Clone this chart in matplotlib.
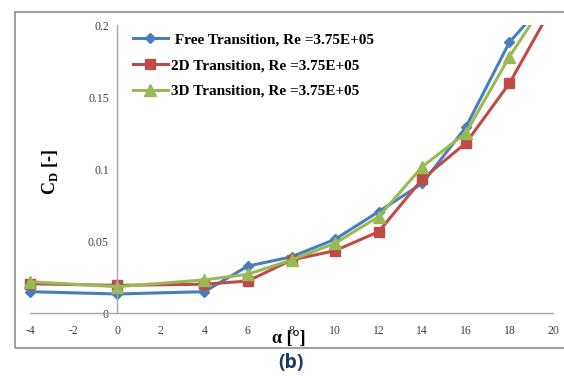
import matplotlib
matplotlib.use("Agg")
import matplotlib.pyplot as plt
from matplotlib.patches import Rectangle

# Drag coefficient vs angle of attack for three transition models
alpha = [-4, 0, 4, 6, 8, 10, 12, 14, 16, 18, 20]
cd_free = [0.0148, 0.0132, 0.0148, 0.0326, 0.0390, 0.0512, 0.0704, 0.0900, 0.1290, 0.1880, 0.2220]
cd_2d = [0.0203, 0.0192, 0.0200, 0.0222, 0.0368, 0.0433, 0.0565, 0.0930, 0.1180, 0.1595, 0.2135]
cd_3d = [0.0217, 0.0183, 0.0230, 0.0269, 0.0368, 0.0484, 0.0669, 0.1016, 0.1250, 0.1780, 0.2240]

labels = [" Free Transition, Re =3.75E+05",
          "2D Transition, Re =3.75E+05",
          "3D Transition, Re =3.75E+05"]
x_ticks = [-4, -2, 0, 2, 4, 6, 8, 10, 12, 14, 16, 18, 20]
y_ticks = [0, 0.05, 0.1, 0.15, 0.2]
y_tick_labels = ["0", "0.05", "0.1", "0.15", "0.2"]

plt.rcParams["mathtext.fontset"] = "custom"
plt.rcParams["mathtext.rm"] = "Liberation Serif"
plt.rcParams["mathtext.bf"] = "Liberation Serif:bold"

serif = "Liberation Serif"
fig = plt.figure(figsize=(5.64, 3.76), dpi=100)

# outer frame around the chart
fig.patches.append(Rectangle((15 / 564, 1 - 348 / 376), 560 / 564, 336 / 376,
                             transform=fig.transFigure, fill=False,
                             edgecolor="#8c8c8c", linewidth=1.2))

ax = fig.add_axes([30 / 564, 63 / 376, 523 / 564, 288 / 376])
ax.set_xlim(-4, 20)
ax.set_ylim(0, 0.2)

# clip only at the top of the value range so end markers stay whole
clip = Rectangle((-6, -0.02), 28, 0.22, transform=ax.transData)

series = [(cd_free, "#4a7ebb", "D", 5.5),
          (cd_2d, "#be4b48", "s", 7.5),
          (cd_3d, "#98b954", "^", 8)]
for (vals, col, mk, ms), lab in zip(series, labels):
    ln, = ax.plot(alpha, vals, color=col, marker=mk, markersize=ms, lw=2.2,
                  label=lab)
    ln.set_clip_path(clip)

for s in ["top", "right"]:
    ax.spines[s].set_visible(False)
ax.spines["left"].set_position(("data", 0))
ax.spines["left"].set_color("#a6a6a6")
ax.spines["bottom"].set_color("#a6a6a6")
ax.spines["left"].set_linewidth(1.0)
ax.spines["bottom"].set_linewidth(1.0)
ax.set_facecolor("none")

ax.set_xticks(x_ticks)
ax.set_xticklabels([str(v) for v in x_ticks], fontfamily=serif, fontsize=8.5,
                   color="#404040")
ax.set_yticks(y_ticks)
ax.set_yticklabels(y_tick_labels, fontfamily=serif, fontsize=8.5, color="#404040")
ax.tick_params(axis="x", length=0, pad=9)
ax.tick_params(axis="y", length=0, pad=6)

leg = ax.legend(loc="upper left", bbox_to_anchor=(0.17, 1.02), frameon=False,
                prop={"family": serif, "weight": "bold", "size": 11},
                handlelength=2.3, labelspacing=0.78, handletextpad=0.2)

fig.text(50 / 564, 1 - 172 / 376, r"$\mathbf{C}_\mathbf{D}$ [-]", rotation=90,
         ha="center", va="center", fontfamily=serif, fontweight="bold", fontsize=13)
fig.text(289 / 564, 1 - 338 / 376, "α [°]", ha="center", va="center",
         fontfamily=serif, fontweight="bold", fontsize=13)
fig.text(291 / 564, 1 - 363 / 376, "(b)", ha="center", va="center",
         fontfamily="Open Sans", fontweight="bold", fontsize=14, color="#1f3864")

fig.savefig("out.png", dpi=100)
